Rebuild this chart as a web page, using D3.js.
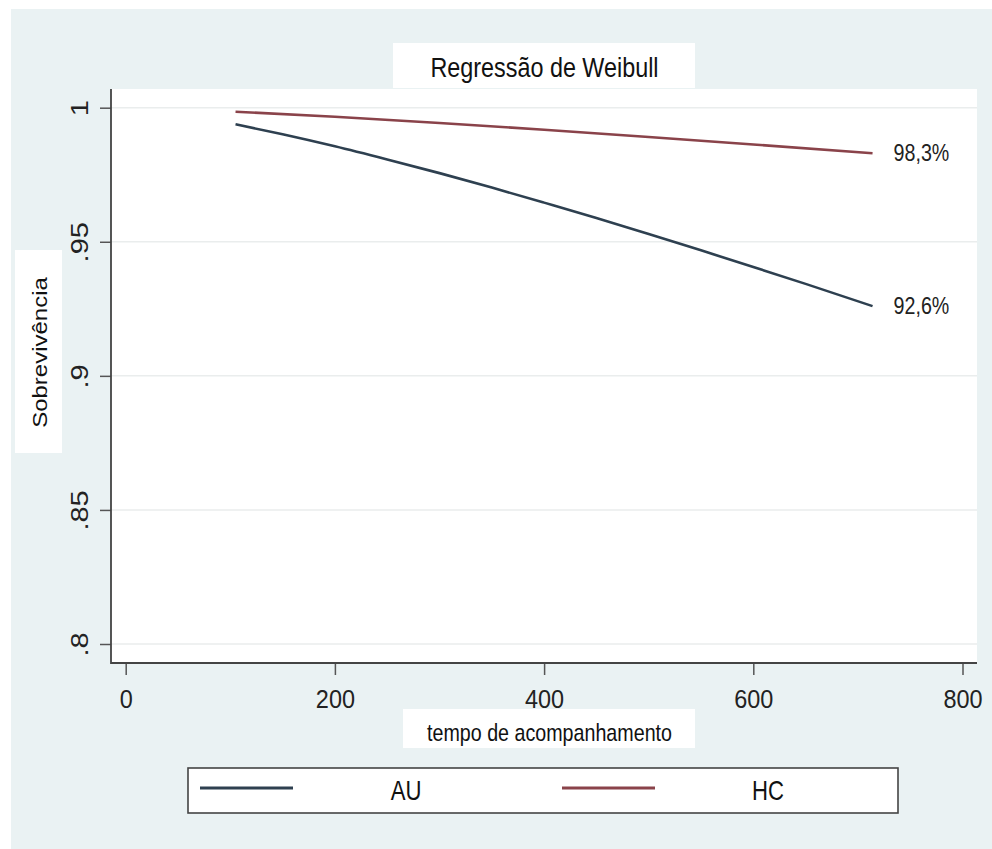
<!DOCTYPE html>
<html>
<head>
<meta charset="utf-8">
<script src="https://cdn.jsdelivr.net/npm/d3@7"></script>
<style>
  html, body { margin: 0; padding: 0; background: #fff; }
  svg { display: block; font-family: "Liberation Sans", Arial, sans-serif; }
</style>
</head>
<body>
<div id="app"></div>
<script>
/////////DATA///////////

const timeAU = [105, 150, 200, 250, 300, 350, 400, 450, 500, 550, 600, 650, 714];
const survAU = [0.9938, 0.9901, 0.9856, 0.9807, 0.9756, 0.9702, 0.9646, 0.9589, 0.9529, 0.9468, 0.9406, 0.9343, 0.926];

const timeHC = [105, 200, 300, 400, 500, 600, 714];
const survHC = [0.9985, 0.9966, 0.9943, 0.9918, 0.9891, 0.9863, 0.983];

const seriesNames = ['AU', 'HC'];
const seriesColors = ['#2e4050', '#8a434a'];
const endLabels = ['92,6%', '98,3%'];

const xTicks = [0, 200, 400, 600, 800];
const yTicks = [0.8, 0.85, 0.9, 0.95, 1];
const yTickLabels = ['.8', '.85', '.9', '.95', '1'];

const titleText = 'Regressão de Weibull';
const xTitle = 'tempo de acompanhamento';
const yTitle = 'Sobrevivência';

/////////SVG///////////

const w = 992, h = 849;
const squeeze = 0.82; // text in the picture is narrow

const svg = d3.select('#app')
  .append('svg')
  .attr('width', w)
  .attr('height', h);

svg.append('rect')
  .attr('x', 11).attr('y', 9)
  .attr('width', w - 11).attr('height', h - 9)
  .attr('fill', '#eaf2f3');

// plot region
const plot = { left: 111, right: 977, top: 89, bottom: 663 };

svg.append('rect')
  .attr('x', plot.left).attr('y', plot.top)
  .attr('width', plot.right - plot.left)
  .attr('height', plot.bottom - plot.top)
  .attr('fill', '#fff');

/////////SCALES///////////

const xScale = d3.scaleLinear().domain([0, 800]).range([125.7, 962.5]);
const yScale = d3.scaleLinear().domain([0.8, 1]).range([644, 107.7]);

// grid
svg.append('g')
  .selectAll('line')
  .data(yTicks)
  .join('line')
  .attr('x1', plot.left).attr('x2', plot.right)
  .attr('y1', d => yScale(d)).attr('y2', d => yScale(d))
  .attr('stroke', '#eaeded')
  .attr('stroke-width', 1.5);

/////////AXES///////////

const xAxis = d3.axisBottom(xScale).tickValues(xTicks).tickSize(12).tickSizeOuter(0);
const gx = svg.append('g')
  .attr('transform', 'translate(0,' + plot.bottom + ')')
  .call(xAxis);
gx.select('.domain').remove();
gx.selectAll('line').attr('stroke', '#555').attr('stroke-width', 1.5);
gx.selectAll('text')
  .attr('y', 45).attr('dy', 0)
  .attr('transform', 'scale(0.92,1)')
  .style('font-size', '25.5px')
  .attr('fill', '#222');

const yAxis = d3.axisLeft(yScale).tickValues(yTicks).tickSize(11).tickSizeOuter(0)
  .tickFormat((d, i) => yTickLabels[i]);
const gy = svg.append('g')
  .attr('transform', 'translate(' + plot.left + ',0)')
  .call(yAxis);
gy.select('.domain').remove();
gy.selectAll('line').attr('stroke', '#555').attr('stroke-width', 1.5);
gy.selectAll('text')
  .attr('x', null).attr('dy', 0)
  .attr('text-anchor', 'middle')
  .attr('transform', 'translate(-23,0) scale(0.85,1) rotate(-90)')
  .style('font-size', '29px')
  .attr('fill', '#222');

svg.append('path')
  .attr('d', 'M' + plot.left + ',' + plot.top + 'V' + plot.bottom + 'H' + plot.right)
  .attr('fill', 'none')
  .attr('stroke', '#444')
  .attr('stroke-width', 1.8);

/////////TITLES///////////

svg.append('rect')
  .attr('x', 393).attr('y', 43).attr('width', 302).attr('height', 45)
  .attr('fill', '#fff');
svg.append('text')
  .attr('transform', 'translate(544.5,77) scale(' + squeeze + ',1)')
  .attr('text-anchor', 'middle')
  .style('font-size', '28.5px')
  .attr('fill', '#111')
  .text(titleText);

svg.append('rect')
  .attr('x', 403).attr('y', 709).attr('width', 292).attr('height', 39)
  .attr('fill', '#fff');
svg.append('text')
  .attr('transform', 'translate(549.5,741) scale(' + squeeze + ',1)')
  .attr('text-anchor', 'middle')
  .style('font-size', '24px')
  .attr('fill', '#111')
  .text(xTitle);

svg.append('rect')
  .attr('x', 15).attr('y', 250).attr('width', 47).attr('height', 203)
  .attr('fill', '#fff');
svg.append('text')
  .attr('transform', 'translate(47,352.5) scale(0.85,1) rotate(-90)')
  .attr('text-anchor', 'middle')
  .style('font-size', '24px')
  .attr('fill', '#111')
  .text(yTitle);

/////////LINES///////////

const series = [
  timeAU.map((t, i) => ({ t: t, s: survAU[i] })),
  timeHC.map((t, i) => ({ t: t, s: survHC[i] }))
];

const line = d3.line()
  .x(d => xScale(d.t))
  .y(d => yScale(d.s))
  .curve(d3.curveMonotoneX);

svg.append('g')
  .selectAll('path')
  .data(series)
  .join('path')
  .attr('d', line)
  .attr('fill', 'none')
  .attr('stroke', (d, i) => seriesColors[i])
  .attr('stroke-width', 2.6);

svg.append('g')
  .selectAll('text')
  .data(series)
  .join('text')
  .attr('transform', d => {
    const last = d[d.length - 1];
    return 'translate(' + (xScale(last.t) + 21) + ',' + (yScale(last.s) + 8) + ') scale(' + squeeze + ',1)';
  })
  .style('font-size', '24px')
  .attr('fill', '#222')
  .text((d, i) => endLabels[i]);

/////////LEGEND///////////

const legend = svg.append('g');
legend.append('rect')
  .attr('x', 188).attr('y', 768).attr('width', 710).attr('height', 45)
  .attr('fill', '#fff')
  .attr('stroke', '#444')
  .attr('stroke-width', 1.6);

const item = legend.selectAll('g')
  .data(seriesNames)
  .join('g')
  .attr('transform', (d, i) => 'translate(' + (200 + i * 362) + ',0)');

item.append('line')
  .attr('x1', 0).attr('x2', 93)
  .attr('y1', 788).attr('y2', 788)
  .attr('stroke', (d, i) => seriesColors[i])
  .attr('stroke-width', 3);

item.append('text')
  .attr('transform', 'translate(206,800) scale(' + squeeze + ',1)')
  .attr('text-anchor', 'middle')
  .style('font-size', '27px')
  .attr('fill', '#111')
  .text(d => d);
</script>
</body>
</html>
